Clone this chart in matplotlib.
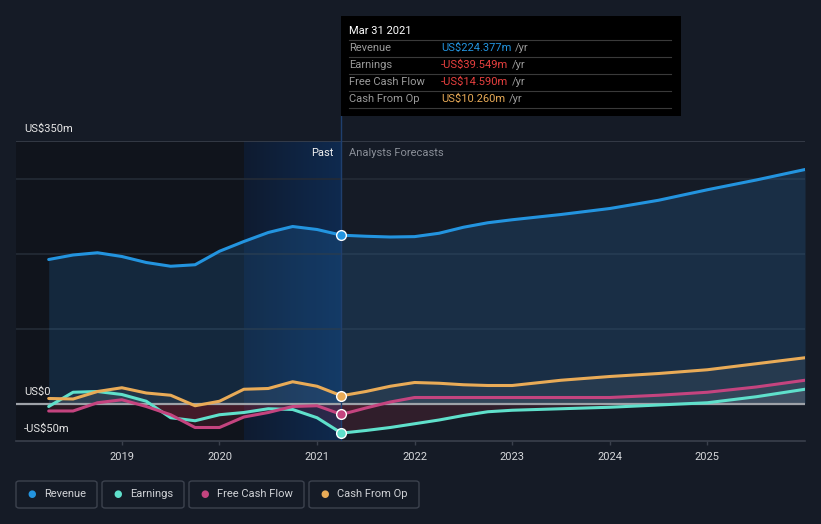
import numpy as np
import matplotlib
matplotlib.use('Agg')
import matplotlib.pyplot as plt
from matplotlib.patches import Rectangle, FancyBboxPatch, Circle
from matplotlib.lines import Line2D

plt.rcParams['font.family'] = ['Roboto', 'DejaVu Sans']

# ---- data (US$m, decimal years) ----
past_years = [2018.25, 2018.5, 2018.75, 2019.0, 2019.25, 2019.5, 2019.75,
              2020.0, 2020.25, 2020.5, 2020.75, 2021.0, 2021.25]
fc_years = [2021.25, 2021.5, 2021.75, 2022.0, 2022.25, 2022.5, 2022.75,
            2023.0, 2023.5, 2024.0, 2024.5, 2025.0, 2025.5, 2026.0]

revenue_past = [192, 198, 201, 196, 188, 183, 185, 203, 216, 228, 236, 232, 224.4]
revenue_fc = [224.4, 223, 222, 222.5, 227, 235, 241, 245, 252, 260, 271, 285, 298, 312]

earnings_past = [-4, 15, 16, 12, 3, -19, -23, -15, -12, -7, -8, -19, -39.5]
earnings_fc = [-39.5, -36, -32, -27, -22, -16, -11, -9, -7, -5, -2, 1, 9, 19]

fcf_past = [-10, -10, 1, 5, -4, -15, -32, -32, -18, -12, -4, -3, -14.6]
fcf_fc = [-14.6, -6, 2, 8, 8, 8, 8, 8, 8, 8, 11, 15, 22, 31]

cfo_past = [6.7, 6, 16, 21, 14, 11, -3, 3, 19, 20, 29, 23, 10.3]
cfo_fc = [10.3, 16, 23, 28, 27, 25, 24, 24, 31, 36, 40, 45, 53, 61]

tick_years = [2019, 2020, 2021, 2022, 2023, 2024, 2025]
series_names = ['Revenue', 'Earnings', 'Free Cash Flow', 'Cash From Op']
series_colors = ['#2394df', '#5fe0cb', '#c4447f', '#e9ab57']
tooltip_values = ['US$224.377m', '-US$39.549m', '-US$14.590m', 'US$10.260m']
tooltip_colors = ['#2394df', '#e8403f', '#e8403f', '#e9ab57']

W, H = 821, 524
BG = '#151b26'


def fx(x):
    return x / W


def fy(y):
    return 1 - y / H


fig = plt.figure(figsize=(W / 100, H / 100), dpi=100, facecolor=BG)
ax = fig.add_axes([fx(16), fy(441), (805 - 16) / W, (441 - 141) / H])
ax.set_facecolor(BG)
x0, x1 = 2017.915, 2026.0
ax.set_xlim(x0, x1)
ax.set_ylim(-50, 350)

# past region + highlighted band
ax.axvspan(x0, 2021.25, color='#10141c', zorder=0, lw=0)
grad = np.linspace(0, 1, 256).reshape(1, -1)
from matplotlib.colors import LinearSegmentedColormap
cm = LinearSegmentedColormap.from_list('band', ['#0f1b30', '#0e2a4f'])
ax.imshow(grad, extent=[2020.25, 2021.25, -50, 350], aspect='auto', cmap=cm, zorder=0.5)

for v in [100, 200, 300]:
    ax.axhline(v, color='#242b36', lw=1.2, zorder=1)
ax.axhline(350, color='#3a404c', lw=1.2, zorder=1)

all_years = past_years + fc_years[1:]
rev = revenue_past + revenue_fc[1:]
ear = earnings_past + earnings_fc[1:]
fcf = fcf_past + fcf_fc[1:]
cfo = cfo_past + cfo_fc[1:]

ax.fill_between(all_years, rev, 0, color='#2d8fe0', alpha=0.17, lw=0, zorder=2)
for s in (ear, fcf, cfo):
    s = np.array(s)
    ax.fill_between(all_years, s, 0, where=s >= 0, interpolate=True,
                    color='#ffffff', alpha=0.06, lw=0, zorder=2)
    ax.fill_between(all_years, s, 0, where=s <= 0, interpolate=True,
                    color='#c0304a', alpha=0.16, lw=0, zorder=2)

ax.axhline(0, color='#9ea2a8', lw=1.6, zorder=3)

for s, c in zip((rev, ear, fcf, cfo), series_colors):
    ax.plot(all_years, s, color=c, lw=2.2, zorder=4, solid_capstyle='round')
    idx = all_years.index(2021.25)
    ax.plot([2021.25], [s[idx]], 'o', ms=7, color=c, mec='white', mew=1, zorder=6)

ax.axvline(2021.25, color='#1f3f6e', lw=1, zorder=3.5)

for sp in ax.spines.values():
    sp.set_visible(False)
ax.spines['bottom'].set_visible(True)
ax.spines['bottom'].set_color('#3a404c')
ax.spines['bottom'].set_linewidth(1.2)
ax.set_yticks([])
ax.set_xticks(tick_years)
ax.set_xticklabels([str(t) for t in tick_years])
ax.tick_params(axis='x', colors='#3a404c', length=3, width=1, pad=5,
               labelcolor='#d6d8db', labelsize=8)

# y labels
fig.text(fx(24), fy(129), 'US$350m', color='#e6e6e6', fontsize=8, va='center')
fig.text(fx(24), fy(392), 'US$0', color='#e6e6e6', fontsize=8, va='center')
fig.text(fx(24), fy(429), '-US$50m', color='#e6e6e6', fontsize=8, va='center')

fig.text(fx(333), fy(153), 'Past', color='#f0f0f0', fontsize=8, ha='right', va='center')
fig.text(fx(349), fy(153), 'Analysts Forecasts', color='#8a8f98', fontsize=8,
         ha='left', va='center')

# cursor line above axes
fig.add_artist(Line2D([fx(341), fx(341)], [fy(141), fy(116)], color='#1f3f6e', lw=1))

# tooltip
fig.add_artist(Rectangle((fx(341), fy(116)), (681 - 341) / W, (116 - 16) / H,
                         facecolor='black', edgecolor='none', zorder=10))
fig.text(fx(349), fy(31), 'Mar 31 2021', color='white', fontsize=8, va='center', zorder=11)
renderer = fig.canvas.get_renderer()
for i, (name, val, vc) in enumerate(zip(series_names, tooltip_values, tooltip_colors)):
    yy = 48 + 17 * i
    fig.add_artist(Line2D([fx(349), fx(671)], [fy(yy - 8), fy(yy - 8)],
                          color='#3a3a3a', lw=0.8, zorder=11))
    fig.text(fx(349), fy(yy), name, color='#9a9a9a', fontsize=8, va='center', zorder=11)
    t = fig.text(fx(441), fy(yy), val, color=vc, fontsize=8, va='center', zorder=11)
    bb = t.get_window_extent(renderer)
    fig.text((bb.x1 + 4) / W, fy(yy), '/yr', color='#9a9a9a', fontsize=8,
             va='center', zorder=11)
fig.add_artist(Line2D([fx(349), fx(671)], [fy(108), fy(108)],
                      color='#3a3a3a', lw=0.8, zorder=11))

# legend boxes
boxes = [(16, 97), (102, 184), (189, 304), (309, 419)]
for (l, r), name, c in zip(boxes, series_names, series_colors):
    fig.add_artist(FancyBboxPatch((fx(l), fy(508)), (r - l) / W, 27 / H,
                                  boxstyle='round,pad=0,rounding_size=0.004',
                                  facecolor='none', edgecolor='#3c424e', lw=1))
    fig.add_artist(Circle((fx(32), fy(494)), 0, color=c))
    fig.text(fx(l + 16), fy(494), '\u25cf', color=c, fontsize=7, ha='center', va='center')
    fig.text(fx(l + 28), fy(494), name, color='#d0d2d6', fontsize=8, va='center')

fig.savefig('out.png', dpi=100, facecolor=BG)
